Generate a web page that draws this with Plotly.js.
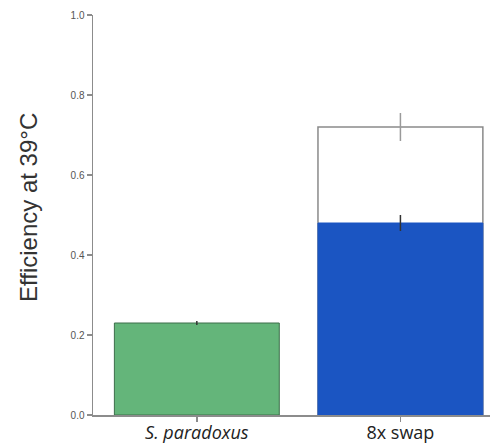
<!DOCTYPE html>
<html><head><meta charset="utf-8">
<script src="https://cdn.plot.ly/plotly-3.0.1.min.js"></script>
<style>body{margin:0;background:#fff}#c{width:493px;height:446px}</style>
</head><body><div id="c"></div>
<script>
var categories = ['<i>S. paradoxus</i>', '8x swap'];
var totalValues = [null, 0.72];
var totalErrors = [0, 0.035];
var baseValues = [0.23, 0.48];
var baseErrors = [0.005, 0.02];
var baseColors = ['#64b57a', '#1b55c2'];
var baseLines = ['#3d6e4a', '#1b55c2'];
var yTicks = [0, 0.2, 0.4, 0.6, 0.8, 1.0];
var yTitle = 'Efficiency at 39°C';

var traces = [
  {type:'bar', x:[0,1], y:totalValues, width:0.81,
   marker:{color:'#ffffff', line:{color:'#8a8a8a', width:1.5}},
   error_y:{type:'data', array:totalErrors, color:'#9a9a9a', thickness:1.5, width:0},
   hoverinfo:'none'},
  {type:'bar', x:[0,1], y:baseValues, width:0.81,
   marker:{color:baseColors, line:{color:baseLines, width:1}},
   error_y:{type:'data', array:baseErrors, color:'#333333', thickness:1.5, width:0},
   hoverinfo:'none'}
];
var layout = {
  width:493, height:446, barmode:'overlay', showlegend:false,
  margin:{l:93, r:3, t:15, b:31},
  paper_bgcolor:'#fff', plot_bgcolor:'#fff',
  font:{family:'Liberation Sans, Arial, sans-serif'},
  xaxis:{range:[-0.51,1.44], tickmode:'array', tickvals:[0,1], ticktext:categories,
    showline:true, linecolor:'#8c8c8c', linewidth:1.5, ticks:'outside', ticklen:5,
    tickcolor:'#8c8c8c', tickwidth:1.5, showgrid:false, zeroline:false,
    ticklabelstandoff:-4,
    tickfont:{size:18, color:'#222', family:'Open Sans, sans-serif'}},
  yaxis:{range:[0,1.0], tickmode:'array', tickvals:yTicks, ticktext:yTicks.map(function(v){return v.toFixed(1);}),
    showline:true, linecolor:'#8c8c8c', linewidth:1.5, ticks:'outside', ticklen:5,
    tickcolor:'#8c8c8c', tickwidth:1.5, showgrid:false, zeroline:false,
    tickfont:{size:10, color:'#555'}},
  annotations:[{text:yTitle, textangle:-90, xref:'paper', yref:'paper',
    x:(28-93)/397, y:(415-208)/400, xanchor:'center', yanchor:'middle', showarrow:false,
    font:{size:24, color:'#333'}}]
};
Plotly.newPlot('c', traces, layout, {staticPlot:true});
</script></body></html>
